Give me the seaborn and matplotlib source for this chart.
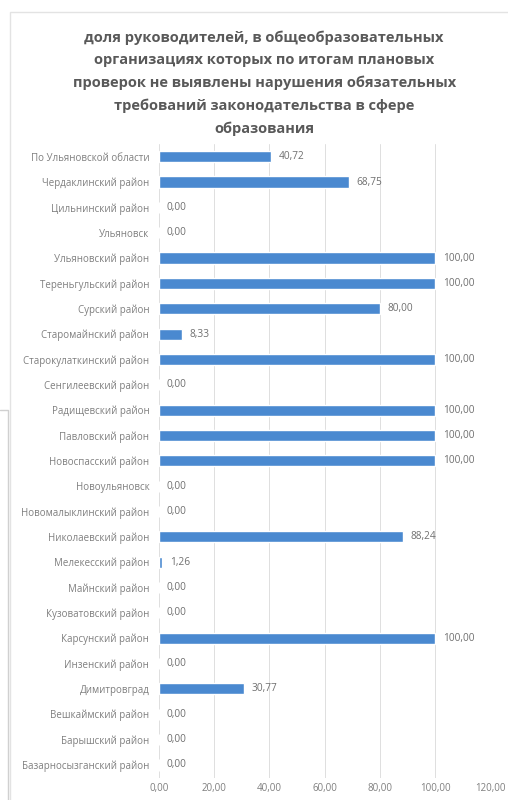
import numpy as np
import pandas as pd
import seaborn as sns
import matplotlib.pyplot as plt
from matplotlib.lines import Line2D

TITLE = ("доля руководителей, в общеобразовательных\n"
         "организациях которых по итогам плановых\n"
         "проверок не выявлены нарушения обязательных\n"
         "требований законодательства в сфере\n"
         "образования")

districts = [
    "По Ульяновской области", "Чердаклинский район", "Цильнинский район",
    "Ульяновск", "Ульяновский район", "Тереньгульский район", "Сурский район",
    "Старомайнский район", "Старокулаткинский район", "Сенгилеевский район",
    "Радищевский район", "Павловский район", "Новоспасский район",
    "Новоульяновск", "Новомалыклинский район", "Николаевский район",
    "Мелекесский район", "Майнский район", "Кузоватовский район",
    "Карсунский район", "Инзенский район", "Димитровград",
    "Вешкаймский район", "Барышский район", "Базарносызганский район",
]
shares = [
    40.72, 68.75, 0.00,
    0.00, 100.00, 100.00, 80.00,
    8.33, 100.00, 0.00,
    100.00, 100.00, 100.00,
    0.00, 0.00, 88.24,
    1.26, 0.00, 0.00,
    100.00, 0.00, 30.77,
    0.00, 0.00, 0.00,
]
xticks = [0, 20, 40, 60, 80, 100, 120]

df = pd.DataFrame({"district": districts, "share": shares})

sns.set_theme(style="white")
plt.rcParams["font.family"] = ["Open Sans", "DejaVu Sans"]

fig = plt.figure(figsize=(5.08, 8.0), dpi=100)
ax = fig.add_axes([0.313, 0.028, 0.652, 0.792])

sns.barplot(data=df, x="share", y="district", color="#4a89d0", saturation=1,
            width=0.44, ax=ax, orient="h")

ax.set_xlim(0, 120)
ax.set_xticks(xticks)
ax.set_xticklabels([f"{t:.2f}".replace(".", ",") for t in xticks],
                   fontsize=7, color="#7f7f7f")
ax.tick_params(axis="y", labelsize=7, labelcolor="#7f7f7f", length=0, pad=7)
ax.tick_params(axis="x", length=0, pad=4)
ax.set_xlabel("")
ax.set_ylabel("")
ax.grid(axis="x", color="#dedede", linewidth=0.7)
ax.set_axisbelow(True)
for s in ax.spines.values():
    s.set_visible(False)

for i, v in enumerate(shares):
    ax.text(v + 2.8, i, f"{v:.2f}".replace(".", ","), va="center", ha="left",
            fontsize=7.3, color="#6f6f6f")

fig.text(0.52, 0.962, TITLE, ha="center", va="top", fontsize=10.5,
         fontweight="bold", color="#595959", linespacing=1.74)

# light chart frame
fig.patches.append(plt.Rectangle((0.02, -0.01), 1.0, 0.995, transform=fig.transFigure,
                                 fill=False, edgecolor="#e3e3e3", linewidth=1))
# edge of a neighbouring chart on the left
fig.lines.append(Line2D([0, 0.016, 0.016], [0.488, 0.488, 0], transform=fig.transFigure,
                        color="#d0d0d0", linewidth=1))

fig.savefig("out.png", dpi=100)
